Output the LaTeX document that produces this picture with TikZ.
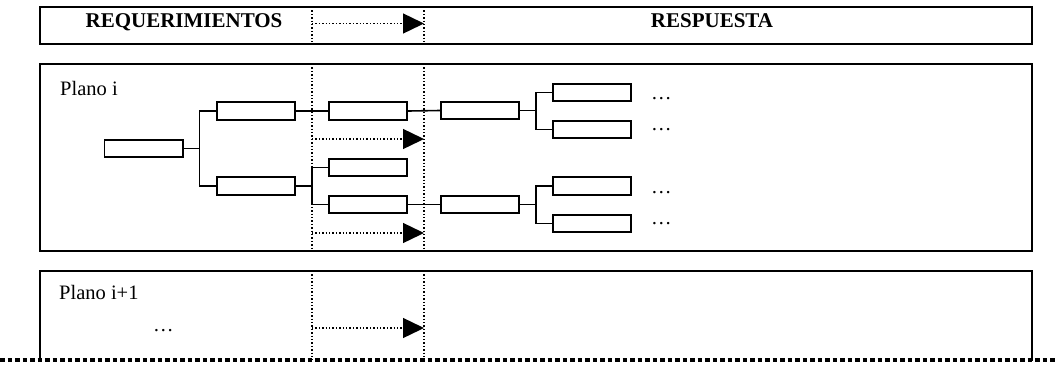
\documentclass[tikz,border=0pt]{standalone}
\usepackage{fontspec}
\setmainfont{Liberation Serif}
\usetikzlibrary{arrows.meta}
\begin{document}
\begin{tikzpicture}[x=1pt,y=-1pt,
  frame/.style={draw=black,line width=2pt},
  sbox/.style={draw=black,line width=1.8pt,minimum width=78.2pt,minimum height=17.6pt,inner sep=0pt},
  conn/.style={draw=black,line width=1.6pt},
  vdot/.style={draw=black,line width=1.4pt,dotted},
  darrow/.style={draw=black,line width=1.4pt,dotted,-{Triangle[length=21pt,width=20pt]}},
  hdr/.style={inner sep=0pt,anchor=base,font=\fontsize{21}{25}\selectfont\bfseries},
  lbl/.style={inner sep=0pt,anchor=base west,font=\fontsize{20.5}{24}\selectfont},
]
\useasboundingbox (0,0) rectangle (1055,365);
\fill[white] (0,0) rectangle (1055,365);

% frames
\draw[frame] (40,7) rectangle (1032,44);
\draw[frame] (40,64) rectangle (1032,251);
\draw[frame] (40,361) -- (40,271) -- (1032,271) -- (1032,361);

% dotted vertical separators
\foreach \x in {312,424}{
  \draw[vdot] (\x,7) -- (\x,44);
  \draw[vdot] (\x,64) -- (\x,251);
  \draw[vdot] (\x,271) -- (\x,360);
}

% header texts
\node[hdr] (req) at (184,27) {REQUERIMIENTOS};
\node[hdr] (resp) at (712,27) {RESPUESTA};

% plane labels
\node[lbl] (pi) at (60,95) {Plano i};
\node[lbl] (pi1) at (59,299) {Plano i+1};
\node[lbl] (dots0) at (153,331.5) {…};

% arrows
\coordinate (h0) at (312,23.5);  \coordinate (h1) at (424,23.5);
\coordinate (a0) at (312,139);   \coordinate (a1) at (424,139);
\coordinate (b0) at (312,233);   \coordinate (b1) at (424,233);
\coordinate (c0) at (312,328);   \coordinate (c1) at (424,328);
\draw[darrow] (h0) -- (h1);
\draw[darrow] (a0) -- (a1);
\draw[darrow] (b0) -- (b1);
\draw[darrow] (c0) -- (c1);

% tree boxes
\node[sbox] (root) at (143.5,148.5) {};
\node[sbox] (A)   at (256,111) {};
\node[sbox] (B)   at (256,186) {};
\node[sbox] (A2)  at (368,111) {};
\node[sbox] (B1)  at (368,167.5) {};
\node[sbox] (B2)  at (368,204.5) {};
\node[sbox] (A3)  at (480,110.5) {};
\node[sbox] (B3)  at (480,204.5) {};
\node[sbox] (A31) at (592,92.5) {};
\node[sbox] (A32) at (592,129.5) {};
\node[sbox] (B31) at (592,186) {};
\node[sbox] (B32) at (592,223.5) {};

% ellipses after leaves
\node[lbl] (e1) at (651,99.5) {…};
\node[lbl] (e2) at (651,130.5) {…};
\node[lbl] (e3) at (651,193.5) {…};
\node[lbl] (e4) at (651,224.5) {…};

% connectors
\draw[conn] (root.east) -- ++(16,0) coordinate (f1) |- (A.west);
\draw[conn] (f1) |- (B.west);
\draw[conn] (A.east) -- (A2.west);
\draw[conn] (A2.east) -- (A3.west);
\draw[conn] (A3.east) -- ++(16,0) coordinate (f2) |- (A31.west);
\draw[conn] (f2) |- (A32.west);
\draw[conn] (B.east) -- ++(16,0) coordinate (f3) |- (B1.west);
\draw[conn] (f3) |- (B2.west);
\draw[conn] (B2.east) -- (B3.west);
\draw[conn] (B3.east) -- ++(16,0) coordinate (f4) |- (B31.west);
\draw[conn] (f4) |- (B32.west);

% bottom cut line
\draw[line width=3.5pt,dash pattern=on 4.5pt off 3pt] (0,360) -- (1055,360);
\end{tikzpicture}
\end{document}
